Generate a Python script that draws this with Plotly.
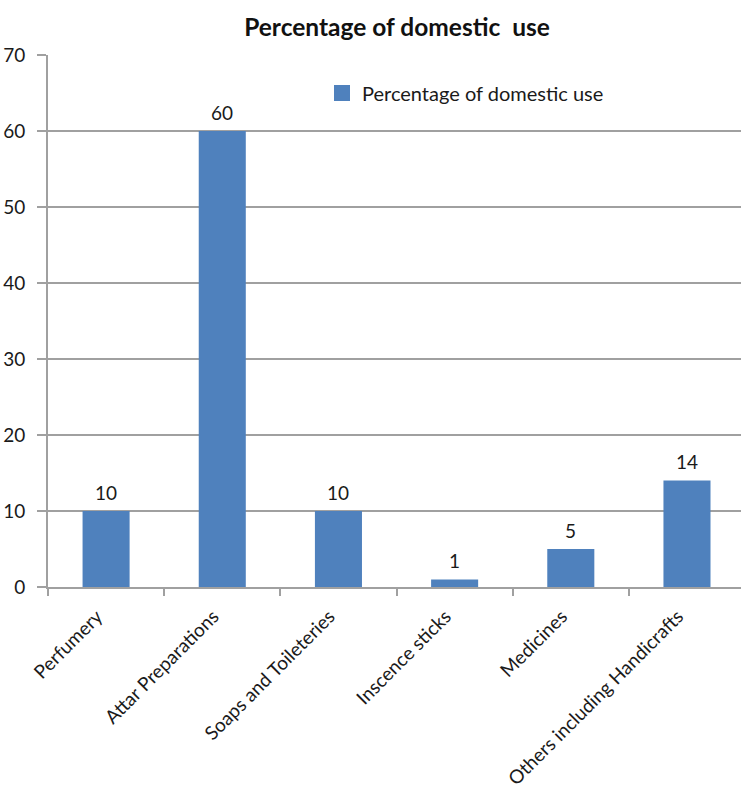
import plotly.graph_objects as go

categories = ["Perfumery", "Attar Preparations", "Soaps and Toileteries",
              "Inscence sticks", "Medicines", "Others including Handicrafts"]
values = [10, 60, 10, 1, 5, 14]
series_name = "Percentage of domestic use"
y_ticks = [0, 10, 20, 30, 40, 50, 60, 70]

FONT = "Lato, Open Sans, sans-serif"
BLUE = "#4F81BD"

fig = go.Figure()
fig.add_trace(go.Bar(
    x=categories, y=values, name=series_name,
    marker=dict(color=BLUE, line=dict(width=0)),
    width=0.405,
    showlegend=False,
))
# legend entry with a larger square swatch
fig.add_trace(go.Scatter(
    x=[None], y=[None], mode="markers", name=series_name,
    marker=dict(symbol="square", size=17, color=BLUE),
    showlegend=True,
))

# data labels above bars
for c, v in zip(categories, values):
    fig.add_annotation(x=c, y=v, text=str(v), showarrow=False,
                       xanchor="center", yanchor="middle", yshift=19,
                       font=dict(size=19, color="#1a1a1a", family=FONT))

fig.update_layout(
    width=741, height=792,
    margin=dict(l=48, r=0, t=55, b=205),
    paper_bgcolor="white", plot_bgcolor="white",
    title=dict(text="<b>Percentage of domestic  use</b>", x=397/741, xanchor="center",
               y=1-27/792, yanchor="middle",
               font=dict(size=24.5, family=FONT, color="#111111")),
    legend=dict(x=(322-48)/693, y=1-(93-55)/532, xanchor="left", yanchor="middle",
                font=dict(size=20, family=FONT, color="#1a1a1a"),
                bgcolor="rgba(0,0,0,0)", itemwidth=30, itemsizing="trace"),
    font=dict(family=FONT),
)

fig.update_xaxes(
    type="category", range=[-0.5, 5.465], automargin=False,
    tickson="boundaries", ticks="outside", ticklen=7, tickwidth=2, tickcolor="#A0A0A0",
    showline=True, linecolor="#A0A0A0", linewidth=2,
    tickangle=-45, tickfont=dict(size=19, family=FONT, color="#1a1a1a"),
    ticklabelshift=-9, ticklabelstandoff=9,
    showgrid=False,
)
fig.update_yaxes(
    range=[0, 70], tickvals=y_ticks, automargin=False,
    ticks="outside", ticklen=9, tickwidth=2, tickcolor="#A0A0A0",
    showline=True, linecolor="#A0A0A0", linewidth=2,
    showgrid=True, gridcolor="#A0A0A0", gridwidth=2,
    zeroline=False, ticklabelstandoff=8,
    tickfont=dict(size=19, family=FONT, color="#1a1a1a"),
)

fig.write_html("out.html")
